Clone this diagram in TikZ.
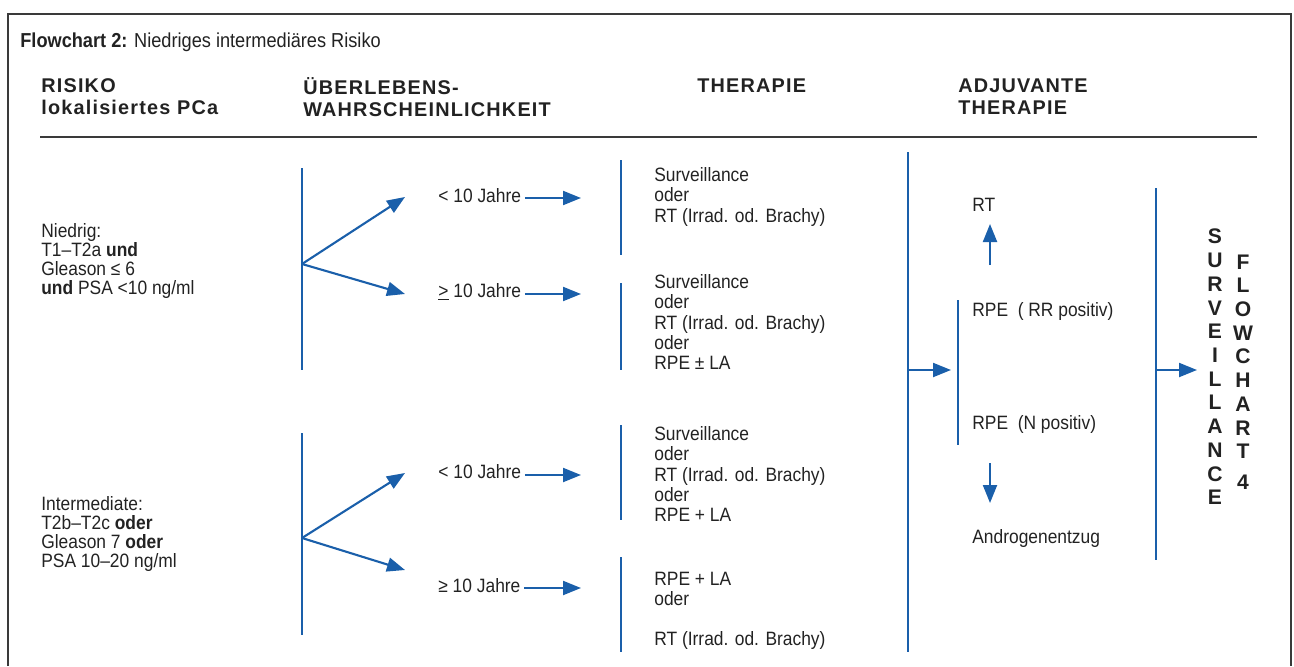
\documentclass[tikz,border=0pt]{standalone}
\usepackage{fontspec}
\setmainfont{Liberation Sans}[FakeStretch=0.9]
\newfontfamily\headfont{Liberation Sans}[LetterSpace=6]
\newfontfamily\plainfont{Liberation Sans}
\usetikzlibrary{arrows.meta,positioning}

\definecolor{flowblue}{HTML}{1A5FAA}
\definecolor{inktext}{HTML}{222222}
\definecolor{framegray}{HTML}{3A3A3A}

\tikzset{
  bar/.style={draw=flowblue, line width=1.2pt},
  arr/.style={draw=flowblue, line width=1.2pt, -{Triangle[length=3.6mm,width=2.8mm]}},
  txt/.style={anchor=west, inner sep=0pt, align=left, text=inktext,
    font=\fontsize{11}{11.4}\selectfont},
  risk/.style={txt, font=\fontsize{11}{10.8}\selectfont},
  head/.style={anchor=west, inner sep=0pt, align=left, text=inktext,
    font=\headfont\bfseries\fontsize{11.3}{12.5}\selectfont},
  vert/.style={inner sep=0pt, align=center, text=inktext,
    font=\plainfont\bfseries\fontsize{12}{13.5}\selectfont},
}

\begin{document}
\begin{tikzpicture}[x=0.02cm, y=-0.02cm]
    \useasboundingbox (0,0) rectangle (1294,666);

    % frame and header rule
    \draw[framegray, line width=1.1pt] (8,666) -- (8,14) -- (1291,14) -- (1291,666);
    \coordinate (ruleL) at (40,137);
    \coordinate (ruleR) at (1257,137);
    \draw[framegray, line width=1.1pt] (ruleL) -- (ruleR);

    % title and column heads
    \node[anchor=west, inner sep=0pt, text=inktext, font=\fontsize{11.5}{13}\selectfont]
      (title) at (20,42) {\textbf{Flowchart 2:} Niedriges intermediäres Risiko};
    \node[head] (hrisk) at (41,97) {RISIKO\\lokalisiertes PCa};
    \node[head] (hsurv) at (303,97) {ÜBERLEBENS-\\WAHRSCHEINLICHKEIT};
    \node[head] (hther) at (697,86) {THERAPIE};
    \node[head] (hadj) at (958,97) {ADJUVANTE\\THERAPIE};

    % risk groups
    \node[risk] (low) at (41,261) {Niedrig:\\T1--T2a \textbf{und}\\Gleason ≤ 6\\\textbf{und} PSA <10 ng/ml};
    \node[risk] (mid) at (41,534) {Intermediate:\\T2b--T2c \textbf{oder}\\Gleason 7 \textbf{oder}\\PSA 10--20 ng/ml};

    % survival bars with forks
    \coordinate (s1top) at (302,168);
    \coordinate (s1bot) at (302,370);
    \coordinate (fork1) at (302,264);
    \coordinate (s2top) at (302,433);
    \coordinate (s2bot) at (302,635);
    \coordinate (fork2) at (302,538);
    \draw[bar] (s1top) -- (s1bot);
    \draw[bar] (s2top) -- (s2bot);
    \coordinate (up1) at (405,197);
    \coordinate (dn1) at (405,294);
    \coordinate (up2) at (405,473);
    \coordinate (dn2) at (405,570);
    \draw[arr] (fork1) -- (up1);
    \draw[arr] (fork1) -- (dn1);
    \draw[arr] (fork2) -- (up2);
    \draw[arr] (fork2) -- (dn2);

    % years
    \node[txt] (lt1) at (438,196) {< 10 Jahre};
    \node[txt] (ge1) at (438,292) {\underline{>} 10 Jahre};
    \node[txt] (lt2) at (438,472) {< 10 Jahre};
    \node[txt] (ge2) at (438,586) {≥ 10 Jahre};
    \coordinate (lt1e) at (581,198);
    \coordinate (ge1e) at (581,294);
    \coordinate (lt2e) at (581,475);
    \coordinate (ge2e) at (581,588);
    \draw[arr] ([xshift=2pt]lt1.east |- lt1e) -- (lt1e);
    \draw[arr] ([xshift=2pt]ge1.east |- ge1e) -- (ge1e);
    \draw[arr] ([xshift=2pt]lt2.east |- lt2e) -- (lt2e);
    \draw[arr] ([xshift=2pt]ge2.east |- ge2e) -- (ge2e);

    % therapy bars and texts
    \coordinate (ta1) at (621,160);
    \coordinate (ta2) at (621,255);
    \coordinate (tb1) at (621,283);
    \coordinate (tb2) at (621,370);
    \coordinate (tc1) at (621,425);
    \coordinate (tc2) at (621,520);
    \coordinate (td1) at (621,557);
    \coordinate (td2) at (621,652);
    \draw[bar] (ta1) -- (ta2);
    \draw[bar] (tb1) -- (tb2);
    \draw[bar] (tc1) -- (tc2);
    \draw[bar] (td1) -- (td2);
    \node[txt] (thera) at (654,197) {Surveillance\\oder\\RT (Irrad. od. Brachy)};
    \node[txt] (therb) at (654,322) {Surveillance\\oder\\RT (Irrad. od. Brachy)\\oder\\RPE ± LA};
    \node[txt] (therc) at (654,474) {Surveillance\\oder\\RT (Irrad. od. Brachy)\\oder\\RPE + LA};
    \node[txt] (therd) at (654,611) {RPE + LA\\oder\\[11pt]RT (Irrad. od. Brachy)};

    % adjuvant therapy
    \coordinate (bigtop) at (908,152);
    \coordinate (bigbot) at (908,652);
    \coordinate (bigmid) at (908,370);
    \coordinate (adjin) at (951,370);
    \draw[bar] (bigtop) -- (bigbot);
    \draw[arr] (bigmid) -- (adjin);
    \coordinate (adjtop) at (958,300);
    \coordinate (adjbot) at (958,445);
    \draw[bar] (adjtop) -- (adjbot);
    \node[txt] (rt) at (972,205) {RT};
    \node[txt] (rperr) at (972,311) {RPE~~( RR positiv)};
    \node[txt] (rpen) at (972,424) {RPE~~(N positiv)};
    \node[txt] (andro) at (972,538) {Androgenentzug};
    \coordinate (upfrom) at (990,265);
    \coordinate (upto) at (990,224);
    \coordinate (dnfrom) at (990,463);
    \coordinate (dnto) at (990,503);
    \draw[arr] (upfrom) -- (upto);
    \draw[arr] (dnfrom) -- (dnto);

    % follow-up
    \coordinate (fuptop) at (1156,188);
    \coordinate (fupbot) at (1156,560);
    \coordinate (fupmid) at (1156,370);
    \coordinate (fupin) at (1197,370);
    \draw[bar] (fuptop) -- (fupbot);
    \draw[arr] (fupmid) -- (fupin);
    \node[vert] (surv) at (1215,367) {S\\U\\R\\V\\E\\I\\L\\L\\A\\N\\C\\E};
    \node[vert] (fc4) at (1243,372) {F\\L\\O\\W\\C\\H\\A\\R\\T\\[4pt]4};

\end{tikzpicture}
\end{document}
